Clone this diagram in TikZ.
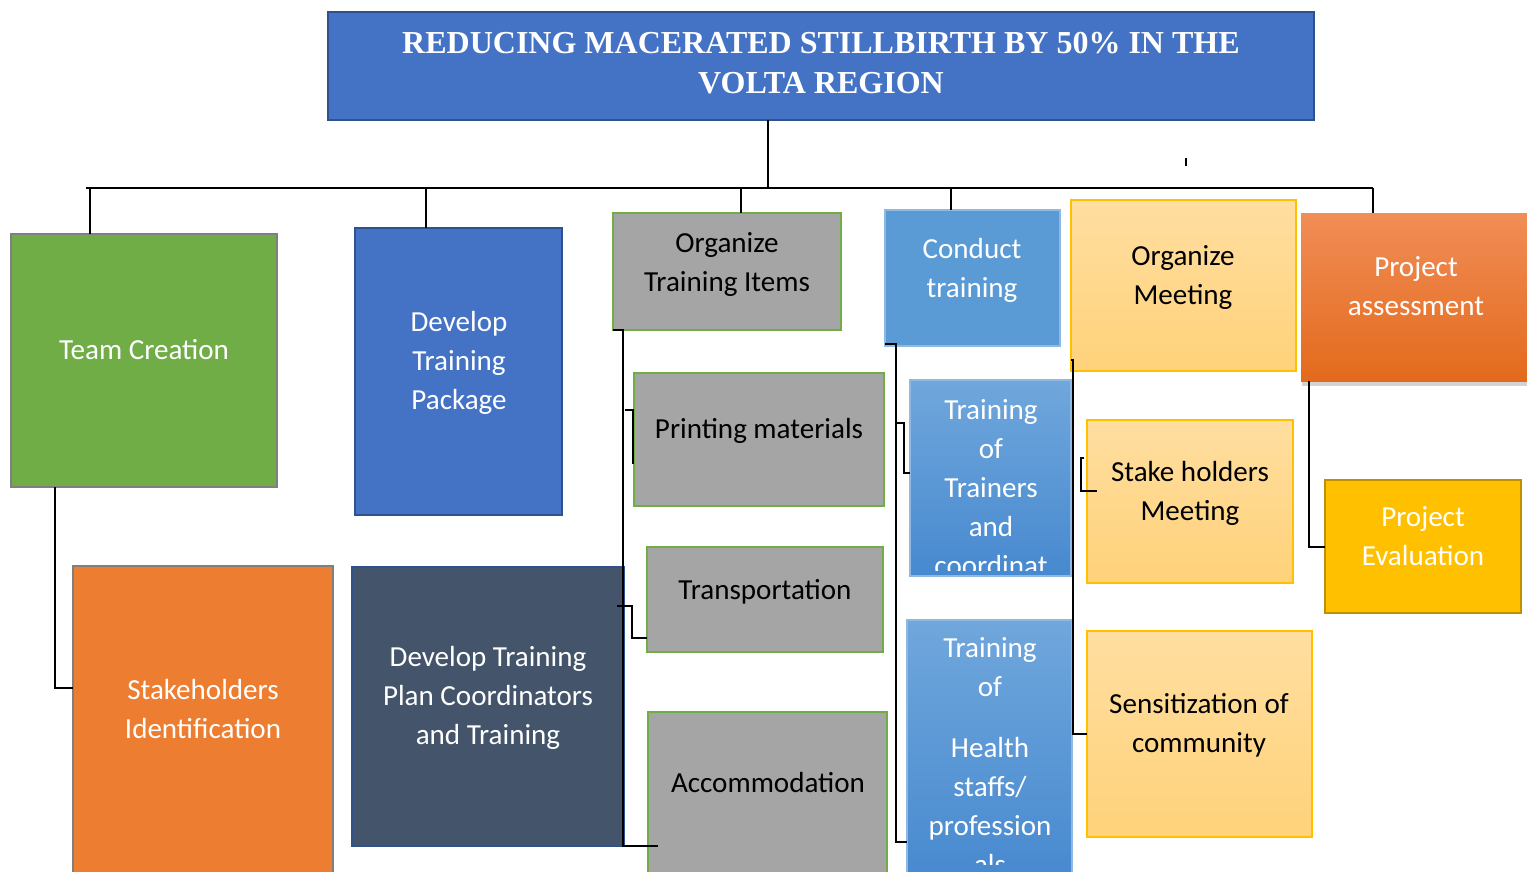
\documentclass[tikz,border=0pt]{standalone}
\usepackage{fontspec}
\setmainfont{Carlito}
\newfontfamily\titlefont{Liberation Serif}
\usetikzlibrary{fit,shadows}

\definecolor{titleblue}{HTML}{4472C4}
\definecolor{titleedge}{HTML}{2F528F}
\definecolor{teamgreen}{HTML}{70AD47}
\definecolor{edgegray}{HTML}{7F7F7F}
\definecolor{itemgray}{HTML}{A5A5A5}
\definecolor{stakeorange}{HTML}{ED7D31}
\definecolor{planslate}{HTML}{44546A}
\definecolor{trainblue}{HTML}{5B9BD5}
\definecolor{trainedge}{HTML}{8FB8E3}
\definecolor{blueup}{HTML}{70A7DC}
\definecolor{bluedown}{HTML}{4789CF}
\definecolor{meetup}{HTML}{FFDEA0}
\definecolor{meetdown}{HTML}{FFD27A}
\definecolor{gold}{HTML}{FFC000}
\definecolor{goldedge}{HTML}{BF9000}
\definecolor{assessup}{HTML}{F18D57}
\definecolor{assessdown}{HTML}{E36A1C}

\tikzset{
  box/.style={inner sep=0pt, outer sep=0pt},
  conn/.style={draw=black, line width=0.8pt},
  wtxt/.style={text=white, align=center, inner sep=0pt, font=\fontsize{21.8}{29.25}\selectfont},
  btxt/.style={wtxt, text=black},
  ttxt/.style={text=white, align=center, inner sep=0pt, font=\titlefont\bfseries\fontsize{24}{30}\selectfont},
  graybox/.style={box, fill=itemgray, draw=teamgreen, line width=0.8pt},
  meetbox/.style={box, top color=meetup, bottom color=meetdown, draw=gold, line width=0.8pt},
  bluebox/.style={box, top color=blueup, bottom color=bluedown, draw=trainedge, line width=0.8pt},
}

\begin{document}
\begin{tikzpicture}[x=0.75pt,y=0.75pt,yscale=-1,xscale=1]
\useasboundingbox (0,0) rectangle (1527,871);
\clip (0,0) rectangle (1527,871);

%Title box
\node [box, fit={(328,12) (1314,120)}, fill=titleblue, draw=titleedge, line width=1.5pt] (goal) {};
\node [ttxt] (goal-t) at (821,63) {REDUCING MACERATED STILLBIRTH BY 50\% IN THE\\VOLTA REGION};

%Team creation
\node [box, fit={(11,234) (277,487)}, fill=teamgreen, draw=edgegray, line width=1.5pt] (team) {};
\node [wtxt] (team-t) at (144,350) {Team Creation};
\node [box, fit={(73,566) (333,880)}, fill=stakeorange, draw=edgegray, line width=1.5pt] (ident) {};
\node [wtxt] (ident-t) at (203,709) {Stakeholders\\Identification};

%Training package
\node [box, fit={(355,228) (562,515)}, fill=titleblue, draw=titleedge, line width=1.5pt] (pack) {};
\node [wtxt] (pack-t) at (459,363) {Develop\\Training\\Package};
\node [box, fit={(352,567) (624,846)}, fill=planslate, draw=titleedge, line width=1.5pt] (plan) {};
\node [wtxt] (plan-t) at (488,698) {Develop Training\\Plan Coordinators\\and Training};

%Training items
\node [graybox, fit={(613,213) (841,330)}] (items) {};
\node [btxt] (items-t) at (727,264.5) {Organize\\Training Items};
\node [graybox, fit={(634,373) (884,506)}] (print) {};
\node [btxt] (print-t) at (759,431) {Printing materials};
\node [graybox, fit={(647,547) (883,652)}] (trans) {};
\node [btxt] (trans-t) at (765,592) {Transportation};
\node [graybox, fit={(648,712) (887,880)}] (accom) {};
\node [btxt] (accom-t) at (768,783) {Accommodation};

%Conduct training
\node [box, fit={(885,210) (1060,346)}, fill=trainblue, draw=trainedge, line width=0.8pt] (cond) {};
\node [wtxt] (cond-t) at (972,270) {Conduct\\training};
\node [bluebox, fit={(910,380) (1071,576)}] (tot) {};
\begin{scope}
\clip (910,380) rectangle (1071,570);
\node [wtxt] (tot-t) at (991,488) {Training\\of\\Trainers\\and\\coordinat};
\end{scope}
\node [bluebox, fit={(907,620) (1072,880)}] (staff) {};
\begin{scope}
\clip (907,620) rectangle (1072,864);
\node [wtxt] (staff-t) at (990,756) {Training\\of\\[16pt]Health\\staffs/\\profession\\als};
\end{scope}

%Meetings
\node [meetbox, fit={(1071,200) (1296,371)}] (meet) {};
\node [btxt] (meet-t) at (1183,277) {Organize\\Meeting};
\node [meetbox, fit={(1087,420) (1293,583)}] (stake) {};
\node [btxt] (stake-t) at (1190,493) {Stake holders\\Meeting};
\node [meetbox, fit={(1087,631) (1312,837)}] (sens) {};
\node [btxt] (sens-t) at (1199,725) {Sensitization of\\community};

%Assessment
\node [box, fit={(1301,213) (1530,381)}, top color=assessup, bottom color=assessdown,
  drop shadow={shadow xshift=1pt, shadow yshift=-4pt, opacity=0.35}] (assess) {};
\node [wtxt] (assess-t) at (1416,286.5) {Project\\assessment};
\node [box, fit={(1325,480) (1521,613)}, fill=gold, draw=goldedge, line width=1.8pt] (eval) {};
\node [wtxt] (eval-t) at (1423,536.5) {Project\\Evaluation};

%Bus
\coordinate (hub) at (768,188);
\coordinate (d1) at (90,188);
\coordinate (d2) at (426,188);
\coordinate (d3) at (741,188);
\coordinate (d4) at (951,188);
\coordinate (d5) at (1373,188);
\draw [line width=1.6pt] (hub |- goal.south) -- (hub);
\draw [conn] (86,188) -- (d5);
\draw [conn] (d1) -- (d1 |- team.north);
\draw [conn] (d2) -- (d2 |- pack.north);
\draw [conn] (d3) -- (d3 |- items.north);
\draw [conn] (d4) -- (d4 |- cond.north);
\draw [conn] (d5) -- (d5 |- assess.north);
\draw [conn] (1186,158) -- (1186,166);

%Sub connectors
\draw [conn] (team.south -| 55,0) |- (ident.west |- 0,688);
\draw [conn] (items.south west |- 0,330) -- (623,330) -- (623,846) -- (658,846);
\draw [conn] (625,410) -- (633,410) |- (print.west |- 0,463);
\draw [conn] (617,606) -- (632,606) |- (trans.west |- 0,638);
\draw [conn] (cond.south west |- 0,344) -- (896,344) -- (896,842) -- (staff.west |- 0,842);
\draw [conn] (896,423) -- (904,423) |- (tot.west |- 0,473);
\draw [conn] (meet.south west |- 0,360) -- (1073,360) |- (sens.west |- 0,734);
\draw [conn] (1084,458) -- (1081,458) |- (1097,491);
\draw [conn] (assess.south -| 1309,0) |- (eval.west |- 0,547);
\end{tikzpicture}
\end{document}
